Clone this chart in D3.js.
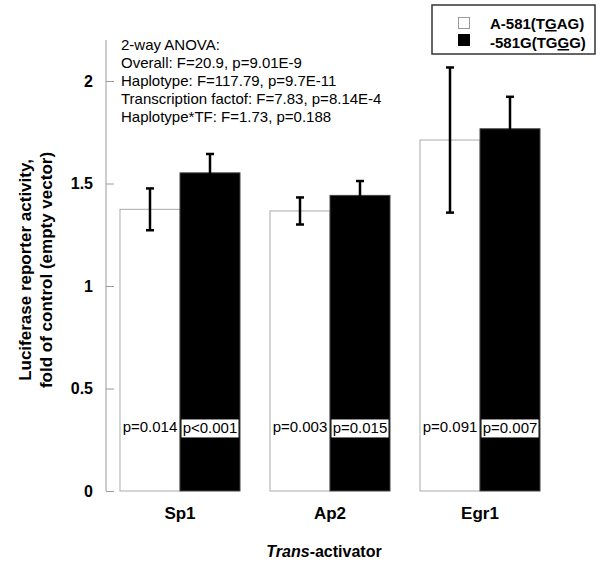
<!DOCTYPE html>
<html><head><meta charset="utf-8">
<script src="https://cdn.jsdelivr.net/npm/d3@7"></script>
<style>body{margin:0;background:#fff}svg{display:block;font-family:Arial,"Liberation Sans",sans-serif}</style>
</head><body><div id="chart"></div>
<script>
const categories = ["Sp1", "Ap2", "Egr1"];
const seriesNames = ["A-581(TGAG)", "-581G(TGGG)"];
const meanA = [1.374, 1.366, 1.712];
const errA  = [0.102, 0.066, 0.354];
const meanG = [1.552, 1.442, 1.767];
const errG  = [0.092, 0.070, 0.156];
const pA = ["p=0.014", "p=0.003", "p=0.091"];
const pG = ["p<0.001", "p=0.015", "p=0.007"];
const yTicks = [0, 0.5, 1, 1.5, 2];
const anovaLines = ["2-way ANOVA:", "Overall: F=20.9, p=9.01E-9", "Haplotype: F=117.79, p=9.7E-11",
  "Transcription factof: F=7.83, p=8.14E-4", "Haplotype*TF: F=1.73, p=0.188"];

const W = 600, H = 563;
const svg = d3.select("#chart").append("svg").attr("width", W).attr("height", H);

const x0 = d3.scaleBand().domain(categories).range([106, 554]).paddingInner(0.2).paddingOuter(0.0933);
const x1 = d3.scaleBand().domain(seriesNames).range([0, x0.bandwidth()]);
const y = d3.scaleLinear().domain([0, 2.2]).range([491, 40]);

// y axis
const yAxis = d3.axisLeft(y).tickValues(yTicks).tickSize(-8).tickPadding(13).tickFormat(d => d3.format("")(d));
const gy = svg.append("g").attr("transform", "translate(106,0)").call(yAxis);
gy.select(".domain").attr("stroke", "#999").attr("d", `M0,${y(2.2)}V${y(0)}`);
gy.selectAll(".tick line").attr("stroke", "#999");
gy.selectAll(".tick text").attr("font-size", 16).attr("font-weight", "bold").attr("fill", "#000")
  .attr("font-family", "Arial, 'Liberation Sans', sans-serif");

const data = categories.map((c, i) => ({c, i, vals: [
  {s: seriesNames[0], v: meanA[i], e: errA[i], p: pA[i]},
  {s: seriesNames[1], v: meanG[i], e: errG[i], p: pG[i]}]}));

const groups = svg.selectAll("g.grp").data(data).join("g").attr("class", "grp")
  .attr("transform", d => `translate(${x0(d.c)},0)`);

// bars
groups.selectAll("rect.bar").data(d => d.vals).join("rect").attr("class", "bar")
  .attr("x", d => x1(d.s)).attr("width", x1.bandwidth())
  .attr("y", d => y(d.v)).attr("height", d => y(0) - y(d.v))
  .attr("fill", (d, j) => j === 0 ? "#fff" : "#000")
  .attr("stroke", (d, j) => j === 0 ? "#aaa" : "#444").attr("stroke-width", 1);

// error bars
const eb = groups.selectAll("g.eb").data(d => d.vals).join("g").attr("class", "eb")
  .attr("transform", d => `translate(${x1(d.s) + x1.bandwidth() / 2},0)`);
eb.append("line").attr("y1", d => y(d.v + d.e)).attr("y2", d => y(d.v - d.e))
  .attr("stroke", "#000").attr("stroke-width", 2.5);
eb.append("line").attr("x1", -4).attr("x2", 4).attr("y1", d => y(d.v + d.e)).attr("y2", d => y(d.v + d.e))
  .attr("stroke", "#000").attr("stroke-width", 2.5);
eb.append("line").attr("x1", -4).attr("x2", 4).attr("y1", d => y(d.v - d.e)).attr("y2", d => y(d.v - d.e))
  .attr("stroke", "#000").attr("stroke-width", 2.5);

// p-value labels
const pLevel = 0.31;
groups.each(function(d) {
  const g = d3.select(this);
  const cxA = x1(seriesNames[0]) + x1.bandwidth() / 2;
  const cxG = x1(seriesNames[1]) + x1.bandwidth() / 2;
  g.append("text").attr("x", cxA).attr("y", y(pLevel) + 5).attr("text-anchor", "middle")
    .attr("font-size", 15).text(d.vals[0].p);
  g.append("rect").attr("x", cxG - 28.5).attr("y", y(pLevel) - 8).attr("width", 57).attr("height", 18)
    .attr("fill", "#fff");
  g.append("text").attr("x", cxG).attr("y", y(pLevel) + 6).attr("text-anchor", "middle")
    .attr("font-size", 15).text(d.vals[1].p);
});

// category labels
svg.selectAll("text.cat").data(categories).join("text").attr("class", "cat")
  .attr("x", d => x0(d) + x0.bandwidth() / 2).attr("y", 519).attr("text-anchor", "middle")
  .attr("font-size", 17).attr("font-weight", "bold").text(d => d);

// x title
const xt = svg.append("text").attr("x", 324).attr("y", 557).attr("text-anchor", "middle")
  .attr("font-size", 16).attr("font-weight", "bold");
xt.append("tspan").attr("font-style", "italic").text("Trans");
xt.append("tspan").text("-activator");

// y title
const yt = svg.append("g").attr("transform", "translate(0,270) rotate(-90)");
yt.append("text").attr("x", 0).attr("y", 31).attr("text-anchor", "middle").attr("font-size", 17)
  .attr("font-weight", "bold").text("Luciferase reporter activity,");
yt.append("text").attr("x", 0).attr("y", 52).attr("text-anchor", "middle").attr("font-size", 17)
  .attr("font-weight", "bold").text("fold of control (empty vector)");

// ANOVA text
svg.selectAll("text.anova").data(anovaLines).join("text").attr("class", "anova")
  .attr("x", 121).attr("y", (d, i) => 50 + i * 18).attr("font-size", 15).text(d => d);

// legend
const lg = svg.append("g");
lg.append("rect").attr("x", 432).attr("y", 5).attr("width", 163).attr("height", 49)
  .attr("fill", "#fff").attr("stroke", "#333").attr("stroke-width", 1.5);
lg.append("rect").attr("x", 458.5).attr("y", 17.5).attr("width", 11).attr("height", 11)
  .attr("fill", "#fff").attr("stroke", "#999");
lg.append("rect").attr("x", 458).attr("y", 34).attr("width", 12).attr("height", 12).attr("fill", "#000");
const underlineIdx = [7, 8];
seriesNames.forEach((s, i) => {
  const t = lg.append("text").attr("x", 490).attr("y", 29 + i * 19).attr("font-size", 15).attr("font-weight", "bold");
  const k = underlineIdx[i];
  t.append("tspan").text(s.slice(0, k));
  t.append("tspan").attr("text-decoration", "underline").text(s.slice(k, k + 1));
  t.append("tspan").text(s.slice(k + 1));
});
</script></body></html>
